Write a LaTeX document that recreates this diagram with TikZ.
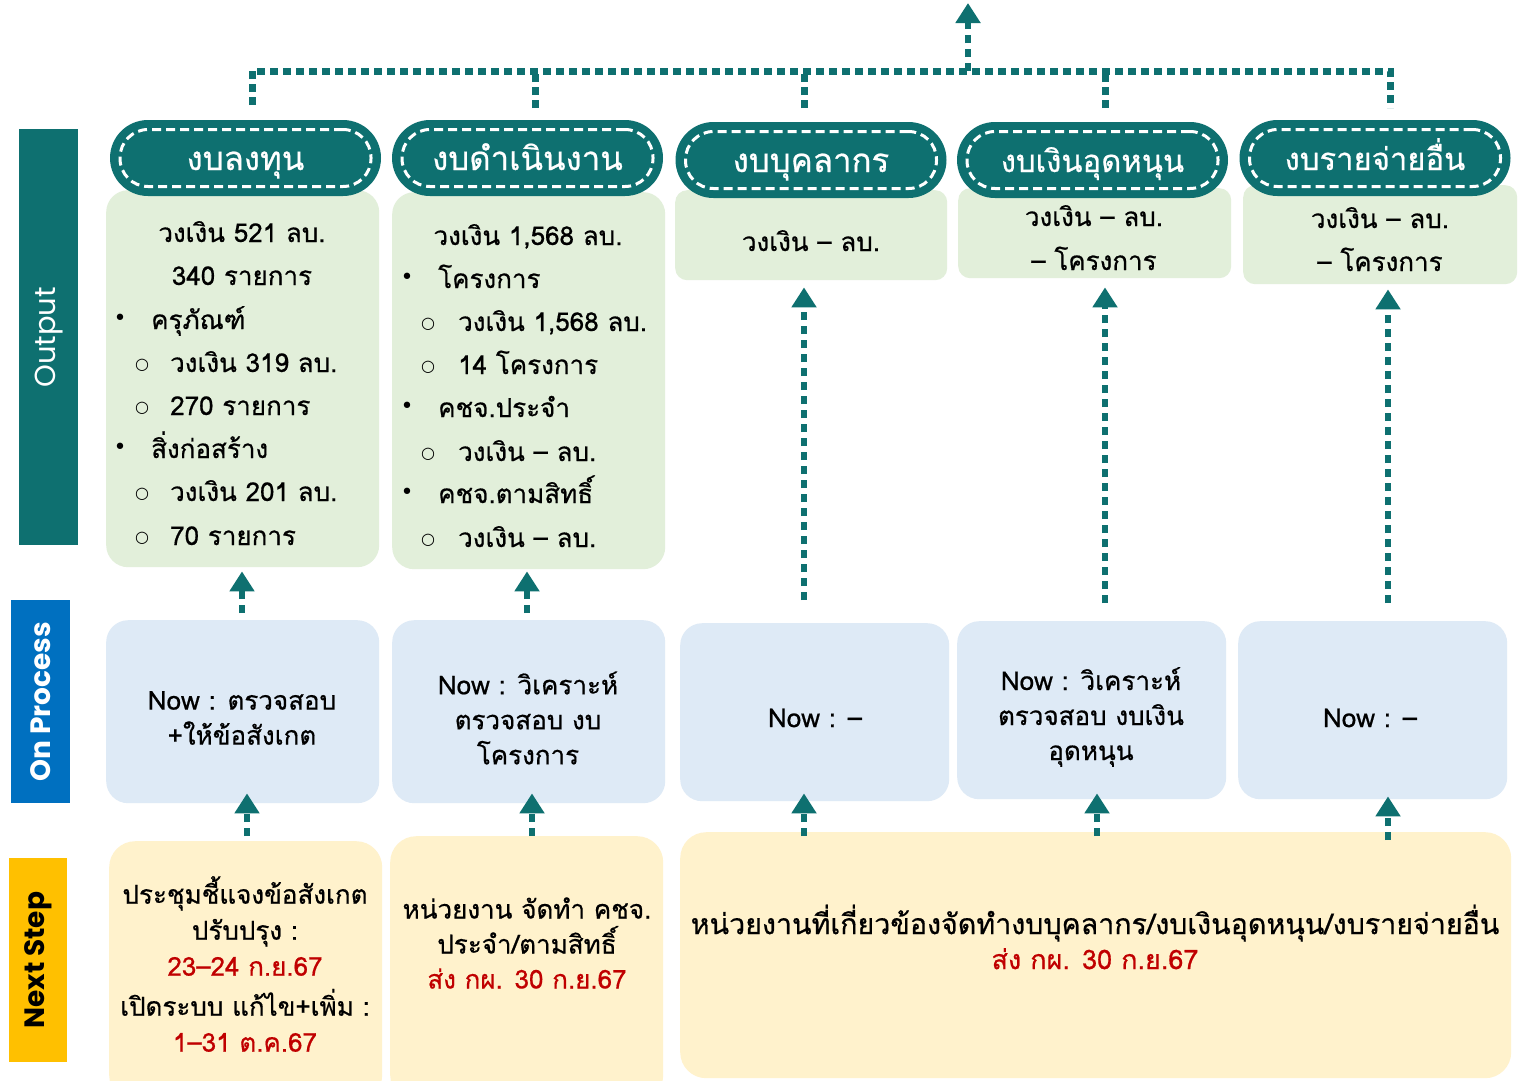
\documentclass[tikz,border=0pt]{standalone}
\usepackage{fontspec}
\setmainfont[Script=Thai,FakeBold=0.6]{Loma}
\newfontfamily\popfont{Poppins}
\newfontfamily\dvfont{DejaVu Sans}
\usetikzlibrary{arrows.meta,calc}
\definecolor{tealc}{RGB}{14,112,112}
\definecolor{procblue}{RGB}{0,112,192}
\definecolor{stepyel}{RGB}{255,192,0}
\definecolor{gfill}{RGB}{226,239,218}
\definecolor{bfill}{RGB}{222,234,246}
\definecolor{yfill}{RGB}{255,242,204}
\definecolor{redc}{RGB}{192,0,0}
\tikzset{
  gbox/.style={fill=gfill, rounded corners=22pt, anchor=north west, inner sep=0pt},
  bbox/.style={fill=bfill, rounded corners=22pt, anchor=north west, inner sep=0pt},
  ybox/.style={fill=yfill, rounded corners=26pt, anchor=north west, inner sep=0pt},
  pill/.style={fill=tealc, rounded corners=38pt, minimum width=271pt, minimum height=76pt, inner sep=0pt},
  pilldash/.style={draw=white, line width=3pt, dash pattern=on 9pt off 5pt, rounded corners=28pt,
     minimum width=251pt, minimum height=57pt, inner sep=0pt, text=white,
     text height=30pt, text depth=6pt, font=\fontsize{33}{36}\selectfont},
  ctxt/.style={anchor=base, inner sep=0pt, font=\fontsize{26}{30}\selectfont},
  ltxt/.style={anchor=base west, inner sep=0pt, font=\fontsize{26}{30}\selectfont},
  bulmark/.style={anchor=center, inner sep=0pt, font=\dvfont\fontsize{22}{24}\selectfont},
  cirmark/.style={anchor=center, inner sep=0pt, font=\dvfont\fontsize{16}{18}\selectfont},
  mtxt/.style={align=center, inner sep=0pt, font=\fontsize{26}{35}\selectfont},
  darr/.style={draw=tealc, line width=6pt, dash pattern=on 8pt off 6pt, -{Triangle[length=20pt,width=24pt]}},
  dline/.style={draw=tealc, line width=7pt, dash pattern=on 8pt off 5pt},
}
\begin{document}
\begin{tikzpicture}[x=1pt,y=-1pt]
\useasboundingbox (0,0) rectangle (1519,1080);
\fill[white] (0,0) rectangle (1519,1080);

% side labels
\node[fill=tealc, minimum width=59pt, minimum height=416pt, anchor=north west, inner sep=0pt] (lout) at (19,129) {};
\node[rotate=90, text=white, font=\popfont\fontsize{29}{32}\selectfont] (loutt) at (lout.center) {Output};
\node[fill=procblue, minimum width=59pt, minimum height=203pt, anchor=north west, inner sep=0pt] (lproc) at (11,600) {};
\node[rotate=90, text=white, font=\popfont\bfseries\fontsize{28}{30}\selectfont] (lproct) at (lproc.center) {On Process};
\node[fill=stepyel, minimum width=58pt, minimum height=204pt, anchor=north west, inner sep=0pt] (lnext) at (9,858) {};
\node[rotate=90, text=black, font=\popfont\bfseries\fontsize{28}{30}\selectfont] (lnextt) at (lnext.center) {Next Step};

% green boxes
\node[gbox, minimum width=273pt, minimum height=377pt] (g1) at (106,190) {};
\node[gbox, minimum width=273pt, minimum height=377pt] (g2) at (392,192) {};
\node[gbox, minimum width=272pt, minimum height=90pt, rounded corners=12pt] (g3) at (675,190) {};
\node[gbox, minimum width=273pt, minimum height=90pt, rounded corners=12pt] (g4) at (958,188) {};
\node[gbox, minimum width=274pt, minimum height=99pt, rounded corners=12pt] (g5) at (1243,185) {};

% pills
\node[pill] (p1) at (245.5,158) {};
\node[pilldash] (p1d) at (p1.center) {งบลงทุน};
\node[pill] (p2) at (527.5,158) {};
\node[pilldash] (p2d) at (p2.center) {งบดำเนินงาน};
\node[pill] (p3) at (811,160) {};
\node[pilldash] (p3d) at (p3.center) {งบบุคลากร};
\node[pill] (p4) at (1092.5,160) {};
\node[pilldash, font=\fontsize{31}{34}\selectfont] (p4d) at (p4.center) {งบเงินอุดหนุน};
\node[pill] (p5) at (1375,158) {};
\node[pilldash, font=\fontsize{31}{34}\selectfont] (p5d) at (p5.center) {งบรายจ่ายอื่น};

% green 1 text
\node[ctxt] (g1a) at (242,242) {วงเงิน 521 ลบ.};
\node[ctxt] (g1b) at (242,285) {340 รายการ};
\node[bulmark] (g1cm) at (120,320) {•};
\node[ltxt] (g1c) at (151,329) {ครุภัณฑ์};
\node[cirmark] (g1dm) at (142,365) {○};
\node[ltxt] (g1d) at (170,372) {วงเงิน 319 ลบ.};
\node[cirmark] (g1em) at (142,408) {○};
\node[ltxt] (g1e) at (170,415) {270 รายการ};
\node[bulmark] (g1fm) at (120,449) {•};
\node[ltxt] (g1f) at (151,458) {สิ่งก่อสร้าง};
\node[cirmark] (g1gm) at (142,494) {○};
\node[ltxt] (g1g) at (170,501) {วงเงิน 201 ลบ.};
\node[cirmark] (g1hm) at (142,538) {○};
\node[ltxt] (g1h) at (170,545) {70 รายการ};

% green 2 text
\node[ctxt] (g2a) at (528,245) {วงเงิน 1,568 ลบ.};
\node[bulmark] (g2bm) at (407,279) {•};
\node[ltxt] (g2b) at (438,288) {โครงการ};
\node[cirmark] (g2cm) at (428,324) {○};
\node[ltxt] (g2c) at (458,331) {วงเงิน 1,568 ลบ.};
\node[cirmark] (g2dm) at (428,367) {○};
\node[ltxt] (g2d) at (458,374) {14 โครงการ};
\node[bulmark] (g2em) at (407,408) {•};
\node[ltxt] (g2e) at (438,417) {คชจ.ประจำ};
\node[cirmark] (g2fm) at (428,454) {○};
\node[ltxt] (g2f) at (458,461) {วงเงิน – ลบ.};
\node[bulmark] (g2gm) at (407,494) {•};
\node[ltxt] (g2g) at (438,503) {คชจ.ตามสิทธิ์};
\node[cirmark] (g2hm) at (428,540) {○};
\node[ltxt] (g2h) at (458,547) {วงเงิน – ลบ.};

% green 3-5 text
\node[ctxt] (g3a) at (811,251) {วงเงิน – ลบ.};
\node[ctxt] (g4a) at (1094,226) {วงเงิน – ลบ.};
\node[ctxt] (g4b) at (1094,270) {– โครงการ};
\node[ctxt] (g5a) at (1380,228) {วงเงิน – ลบ.};
\node[ctxt] (g5b) at (1380,271) {– โครงการ};

% blue boxes
\node[bbox, minimum width=273pt, minimum height=183pt] (b1) at (106,620) {};
\node[bbox, minimum width=273pt, minimum height=183pt] (b2) at (392,620) {};
\node[bbox, minimum width=269pt, minimum height=178pt] (b3) at (680,623) {};
\node[bbox, minimum width=269pt, minimum height=178pt] (b4) at (957,621) {};
\node[bbox, minimum width=269pt, minimum height=178pt] (b5) at (1238,621) {};
\node[mtxt] (b1t) at (242,718) {Now : ตรวจสอบ\\+ให้ข้อสังเกต};
\node[mtxt] (b2t) at (528,718) {Now : วิเคราะห์\\ตรวจสอบ งบ\\โครงการ};
\node[mtxt] (b3t) at (815,718) {Now : –};
\node[mtxt] (b4t) at (1091,717) {Now : วิเคราะห์\\ตรวจสอบ งบเงิน\\อุดหนุน};
\node[mtxt] (b5t) at (1370,718) {Now : –};

% yellow boxes
\node[ybox, minimum width=273pt, minimum height=260pt] (y1) at (109,841) {};
\node[ybox, minimum width=273pt, minimum height=265pt] (y2) at (390,836) {};
\node[ybox, minimum width=831pt, minimum height=246pt] (y3) at (680,832) {};
\node[mtxt, font=\fontsize{26}{36}\selectfont] (y1t) at (245,964) {ประชุมชี้แจงข้อสังเกต\\ปรับปรุง :\\\textcolor{redc}{23–24 ก.ย.67}\\[4pt]เปิดระบบ แก้ไข+เพิ่ม :\\\textcolor{redc}{1–31 ต.ค.67}};
\node[mtxt] (y2t) at (527,943) {หน่วยงาน จัดทำ คชจ.\\ประจำ/ตามสิทธิ์\\\textcolor{redc}{ส่ง กผ. 30 ก.ย.67}};
\node[mtxt] (y3t) at (1095,937) {{\fontsize{28.6}{35}\selectfont หน่วยงานที่เกี่ยวข้องจัดทำงบบุคลากร/งบเงินอุดหนุน/งบรายจ่ายอื่น}\\\textcolor{redc}{\fontsize{27}{35}\selectfont ส่ง กผ. 30 ก.ย.67}};

% top tree connector
\coordinate (hub) at (968,71);
\coordinate (toptip) at (968,3);
\coordinate (s1) at (252,105);
\coordinate (s2) at (535,108);
\coordinate (s3) at (804,108);
\coordinate (s4) at (1105,108);
\coordinate (s5) at (1390,108);
\draw[dline] (s1) -- (s1 |- hub) -- (s5 |- hub) -- (s5);
\draw[dline] (s2) -- (s2 |- hub);
\draw[dline] (s3) -- (s3 |- hub);
\draw[dline] (s4) -- (s4 |- hub);
\draw[darr] (hub) -- (toptip);

% column x positions
\coordinate (x1) at (242,0);
\coordinate (x2) at (527,0);
\coordinate (x3) at (804,0);
\coordinate (x4) at (1105,0);
\coordinate (x5) at (1388,0);
\coordinate (z1) at (247,0);
\coordinate (z2) at (532,0);
\coordinate (z3) at (804,0);
\coordinate (z4) at (1097,0);
\coordinate (z5) at (1388,0);

% process -> output
\draw[darr] ($(b1.north -| x1)+(0,-7)$) -- ($(g1.south -| x1)+(0,4)$);
\draw[darr] ($(b2.north -| x2)+(0,-7)$) -- ($(g2.south -| x2)+(0,2)$);
\draw[darr] ($(b3.north -| x3)+(0,-23)$) -- ($(g3.south -| x3)+(0,7)$);
\draw[darr] ($(b4.north -| x4)+(0,-18)$) -- ($(g4.south -| x4)+(0,9)$);
\draw[darr] ($(b5.north -| x5)+(0,-18)$) -- ($(g5.south -| x5)+(0,5)$);

% next step -> process
\draw[darr] ($(y1.north -| z1)+(0,-5)$) -- ($(b1.south -| z1)+(0,-10)$);
\draw[darr] ($(y2.north -| z2)+(0,0)$) -- ($(b2.south -| z2)+(0,-10)$);
\draw[darr] ($(y3.north -| z3)+(0,4)$) -- ($(b3.south -| z3)+(0,-8)$);
\draw[darr] ($(y3.north -| z4)+(0,4)$) -- ($(b4.south -| z4)+(0,-6)$);
\draw[darr] ($(y3.north -| z5)+(0,8)$) -- ($(b5.south -| z5)+(0,-3)$);
\end{tikzpicture}
\end{document}
